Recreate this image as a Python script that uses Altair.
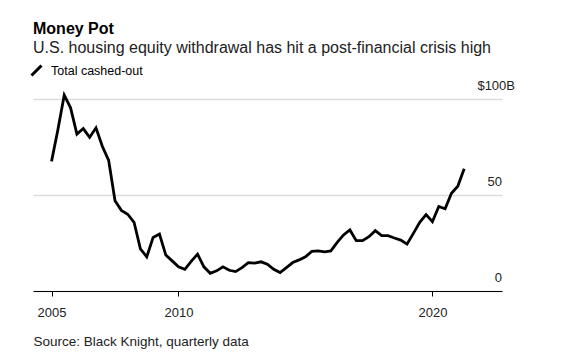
import altair as alt
import pandas as pd

start_year = 2005
cashed_out = [67.5, 84, 102, 95.4,
               81.7, 84.6, 80, 85,
               75.4, 68, 47, 42,
               40, 35.8, 22, 17.8,
               27.9, 29.7, 18.7, 15.7,
               12.6, 11.3, 15.4, 19.2,
               12.6, 9.2, 10.5, 12.6,
               10.8, 10.1, 12.2, 14.8,
               14.5, 15.2, 14, 11.3,
               9.6, 12.2, 14.8, 16.2,
               17.8, 20.6, 20.9, 20.4,
               20.9, 25.3, 29.2, 31.8,
               26.2, 26.2, 28.3, 31.4,
               28.8, 28.8, 27.6, 26.5,
               24.4, 30, 35.8, 39.8,
               36.1, 44, 42.8, 50.9,
               54.6, 63.7]
series_name = "Total cashed-out"
x_ticks = [2005, 2010, 2020]
y_ticks = [0, 50]
y_tick_labels = ["0", "50"]
y_top = [100]
y_top_labels = ["$100B"]

time = [start_year + i / 4 for i in range(len(cashed_out))]
df = pd.DataFrame({"t": time, "v": cashed_out, "series": series_name})
ticks_df = pd.DataFrame({"v": y_ticks, "label": y_tick_labels})
top_df = pd.DataFrame({"v": y_top, "label": y_top_labels})

FONT = "Liberation Sans"
W, H = 469, 192

x_scale = alt.Scale(domain=[2004.27, 2022.74], nice=False, zero=False)
y_scale = alt.Scale(domain=[0, 100], nice=False)

line = alt.Chart(df).mark_line(strokeWidth=2.8, strokeJoin="miter", clip=False).encode(
    x=alt.X("t:Q", scale=x_scale,
            axis=alt.Axis(values=x_ticks, format="d", grid=False, domainColor="black",
                          domainWidth=1.2, tickColor="black", tickSize=5, tickWidth=1,
                          labelFontSize=13, labelColor="#222", labelPadding=10,
                          labelFont=FONT,
                          title="Source: Black Knight, quarterly data",
                          titleAnchor="start", titleAlign="left", titleX=0, titleY=54,
                          titleBaseline="alphabetic", titleFontSize=13.5,
                          titleFontWeight="normal", titleColor="#222", titleFont=FONT)),
    y=alt.Y("v:Q", scale=y_scale,
            axis=alt.Axis(values=[0, 50, 100], orient="right", labels=False, ticks=False,
                          domain=False, grid=True, gridColor="#dcdcdc", gridWidth=1.5,
                          title=None)),
    stroke=alt.Stroke("series:N", scale=alt.Scale(domain=[series_name], range=["black"]),
                      legend=alt.Legend(title=None, orient="none", legendX=-3, legendY=-35,
                                        symbolType="M-1,1L1,-1", symbolSize=100,
                                        symbolStrokeWidth=3, symbolStrokeColor="black",
                                        labelFontSize=12.5, labelColor="black",
                                        labelFont=FONT, labelOffset=8)),
)

labels = alt.Chart(ticks_df).mark_text(align="right", baseline="alphabetic", dy=-9,
                                        fontSize=13, color="#222", font=FONT).encode(
    x=alt.value(W), y=alt.Y("v:Q", scale=y_scale), text="label:N")

top_label = alt.Chart(top_df).mark_text(align="right", baseline="alphabetic", dy=-9, dx=13,
                                         fontSize=13, color="#222", font=FONT).encode(
    x=alt.value(W), y=alt.Y("v:Q", scale=y_scale), text="label:N")

chart = alt.layer(line, labels, top_label).properties(
    width=W, height=H,
    autosize=alt.AutoSizeParams(type="none"),
    padding={"left": 25, "top": 91, "right": 60, "bottom": 60},
    title=alt.TitleParams(text="Money Pot",
                          subtitle="U.S. housing equity withdrawal has hit a post-financial crisis high",
                          anchor="start", frame="group", font=FONT, fontSize=16,
                          fontWeight="bold", color="black", subtitleFont=FONT,
                          subtitleFontSize=16, subtitleColor="#222", subtitlePadding=3,
                          offset=8),
).configure(background="white", view=alt.ViewConfig(stroke=None))

chart.save("out.html", embed_options={"renderer": "svg", "actions": False})
